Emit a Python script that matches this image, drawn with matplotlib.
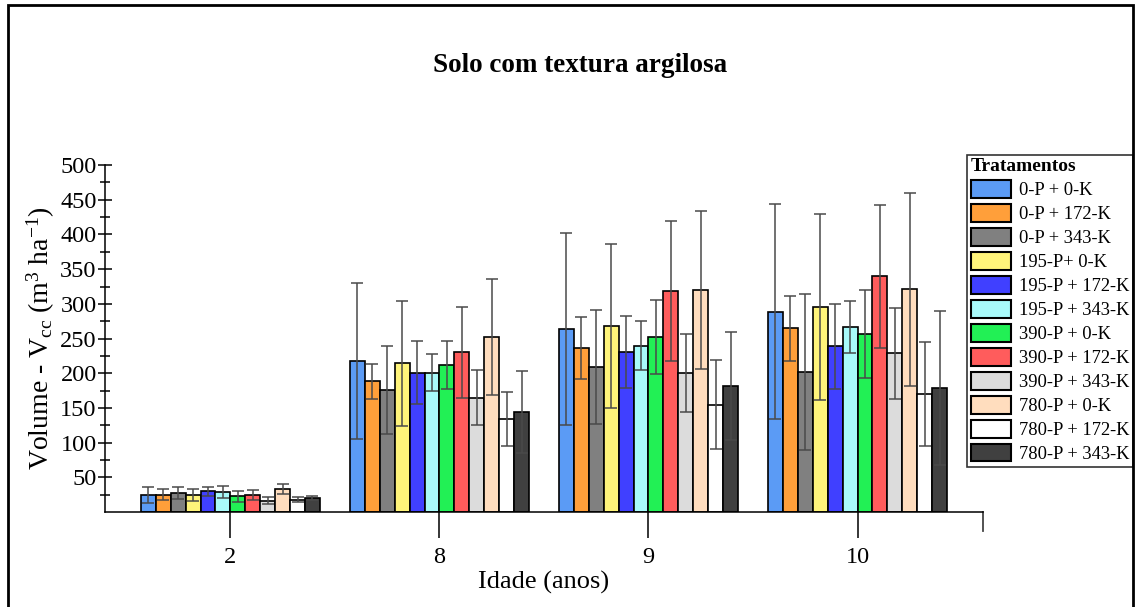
import matplotlib
matplotlib.use("Agg")
import matplotlib.pyplot as plt
import numpy as np
from matplotlib.lines import Line2D
from matplotlib.patches import Rectangle

categories = ["2", "8", "9", "10"]
treatments = ["0-P + 0-K", "0-P + 172-K", "0-P + 343-K", "195-P+ 0-K",
              "195-P + 172-K", "195-P + 343-K", "390-P + 0-K", "390-P + 172-K",
              "390-P + 343-K", "780-P + 0-K", "780-P + 172-K", "780-P + 343-K"]
colors = ["#5B9BF5", "#FF9F3A", "#808080", "#FFF47A", "#4040FF", "#A8FAFA",
          "#22F055", "#FF5C5C", "#DCDCDC", "#FFDDBE", "#FFFFFF", "#404040"]

# means per treatment (rows) for ages 2, 8, 9, 10
means = [
    [24.5, 217.6, 263.7, 288.7],
    [24.6, 188.3, 236.3, 264.6],
    [27.4, 175.8, 208.5, 201.7],
    [24.5, 214.2, 268.5, 295.0],
    [29.7, 200.8, 231.0, 238.7],
    [29.2, 200.8, 239.7, 266.6],
    [22.5, 211.8, 252.2, 256.5],
    [24.5, 230.0, 319.0, 339.6],
    [16.4, 164.7, 200.3, 228.6],
    [33.1, 252.2, 320.4, 320.8],
    [17.7, 134.0, 154.7, 169.5],
    [20.6, 144.0, 182.0, 178.2],
]
sds = [
    [11, 113, 139, 155],
    [8, 25, 45, 47],
    [8, 63, 82, 112],
    [9, 90, 118, 134],
    [6, 45, 52, 61],
    [9, 27, 35, 38],
    [8, 35, 54, 64],
    [7, 65, 101, 103],
    [5, 40, 56, 66],
    [7, 83, 114, 139],
    [3.5, 39, 64, 75],
    [3, 59, 78, 111],
]

plt.rcParams['font.family'] = ['Liberation Serif', 'DejaVu Serif']
plt.rcParams['mathtext.fontset'] = 'custom'
plt.rcParams['mathtext.rm'] = 'Liberation Serif'
plt.rcParams['mathtext.it'] = 'Liberation Serif:italic'

fig = plt.figure(figsize=(11.41, 6.07), dpi=100)
ax = fig.add_axes([0.092, 0.1565, 0.7695, 0.5715])

x = np.arange(len(categories))
n = len(treatments)
w = 0.0714
handles = []
for i in range(n):
    pos = x + (i - (n - 1) / 2) * w
    b = ax.bar(pos, means[i], width=w, color=colors[i], edgecolor='black',
               linewidth=1.2, zorder=2, label=treatments[i])
    ax.errorbar(pos, means[i], yerr=sds[i], fmt='none', ecolor='#4a4a4a',
                elinewidth=1.1, capsize=4.5, capthick=1.1, zorder=3)
    handles.append(b)

ax.set_xlim(-0.6, 3.6)
ax.set_ylim(0, 500)
ax.spines['top'].set_visible(False)
ax.spines['right'].set_visible(False)
ax.spines['left'].set_linewidth(1.1)
ax.spines['bottom'].set_linewidth(1.1)
ax.spines['left'].set_bounds(0, 500)

ax.set_yticks(np.arange(50, 501, 50))
ax.set_yticks(np.arange(25, 501, 50), minor=True)
ax.tick_params(axis='y', which='major', direction='inout', length=10, width=1.1, labelsize=17.5, pad=1)
ax.tick_params(axis='y', which='minor', direction='inout', length=7, width=1.1)
ax.set_xticks(x)
ax.set_xticklabels(categories)
ax.tick_params(axis='x', which='major', direction='out', length=19, width=1.1, labelsize=17.5, pad=6)
# right end tick of x axis
ax.add_line(Line2D([1, 1], [0, -0.055], transform=ax.transAxes, color='#444444',
                   lw=1.3, clip_on=False))

ax.set_xlabel('Idade (anos)', fontsize=19, labelpad=2)
ax.set_ylabel('Volume - V$_{\\mathrm{cc}}$ (m$^{3}$ ha$^{-1}$)', fontsize=20, labelpad=2)

fig.text(0.508, 0.892, 'Solo com textura argilosa', ha='center', va='center',
         fontsize=19.5, fontweight='bold')

leg = ax.legend(handles=handles, title='Tratamentos', loc='upper left',
                bbox_to_anchor=(0.8475, 0.745), bbox_transform=fig.transFigure,
                fontsize=13.3, title_fontproperties={'weight': 'bold', 'size': 14},
                frameon=True, fancybox=False, edgecolor='black',
                handlelength=2.2, handleheight=1.1, handletextpad=0.4,
                labelspacing=0.26, borderpad=0.2, borderaxespad=0)
leg._legend_box.align = 'left'
leg.get_frame().set_linewidth(1.2)
for p in leg.get_patches():
    p.set_linewidth(1.5)

# outer border
fig.add_artist(Rectangle((8 / 1141, -0.05), 1125 / 1141, 1.05 - 5 / 607,
                         transform=fig.transFigure, fill=False, edgecolor='black',
                         linewidth=2))

fig.savefig('out.png', dpi=100)
